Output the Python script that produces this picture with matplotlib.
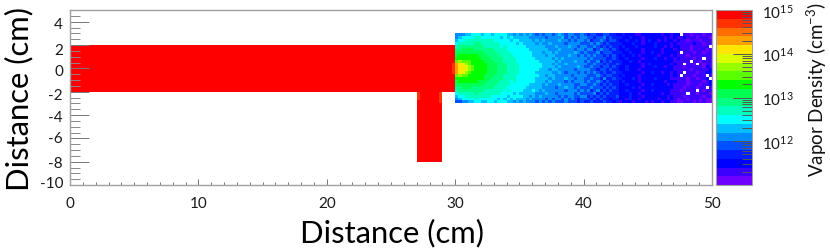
import numpy as np
import matplotlib
matplotlib.use("Agg")
import matplotlib.pyplot as plt
from matplotlib.colors import ListedColormap, LogNorm
from matplotlib.ticker import LogLocator, NullFormatter, MultipleLocator
from matplotlib.transforms import ScaledTranslation

plt.rcParams["font.family"] = ["Lato", "DejaVu Sans"]
plt.rcParams["mathtext.default"] = "regular"

W, H = 830, 251

# palette bands, lowest density first
band_colors = ["#6e00ff", "#3c00ff", "#0000ff", "#001eff", "#0050ff", "#008cff", "#00beff",
               "#00ffff", "#00ffbe", "#00ff82", "#00ff50", "#00ff00", "#5aff00", "#96ff00",
               "#dcff00", "#ffe600", "#ffa000", "#ff6e00", "#ff3200", "#ff0000"]

# band read off each cell, top row first: 0-9 then a-j, "." = empty bin
# chamber x 30..50, y -3..3, 0.25 cm bins
chamber_rows = [
    "55566777677677776656 56565454554565455445 4344334433 2232221122 2222122122.110111011",
    "56777788777777676766 66655555455556454545 5443445343 3322322212 22222121211211101110",
    "67788888888877777677 66665656555565545455 4534454344 3223223212 32212122121101110111",
    "78888899888888777776 76666565565555455554 4454543433 3322232212 22322221211111211011",
    "89999999988888787777 77666666555655565545 5445434343 3232223222 2232212122111011111.",
    "99aaaa99999988887777 77766666655565555455 4553454434 3223222212 22221222121110111101",
    "aaaaaaaaa99998888777 77776665665655555654 5444534443 3322322212 2322122221.111011011",
    "abbbbbbaaa9999888877 77776666566555565545 4545443434 3232232122 22212221211101111111",
    "bbbbbbbbaaa999988887 77777666665656555555 5454444334 3223222212 22322122121111011.11",
    "cdcccbbbbaaa99988887 77777766666565555655 4544534343 3322322122 2222222211111.110111",
    "gfedcbbbbbaaa9998888 77777776665655655555 5445443433 4322222212 32222221211.110.1011",
    "gffedcbbbbaaa9998888 77777776666565555565 4454434434 3223222212 22322122111011111021",
    "gffedcbbbbaaa9998888 77777766656655555455 5544344343 3223222122 22222222111110111112",
    "gfedcbbbbbaaa9998888 77777666665565455545 4545434334 3322222212 23221221211.11101122",
    "cdccbbbbbaaa99988887 77777766566555554555 5444543443 3232222122 2222222121.1110111.1",
    "bbbbbbbbbaa999988887 77777666656555655455 4454435334 3322232122 2232222111110110112.",
    "abbbbbbaaa9999888787 77777666565555454555 4544543433 3232222122 22222122211101111012",
    "aaaaaaaaa99998888777 77766665655565555445 5445434343 3223222212 23222212111101110112",
    "99aaa999999988887777 77666665555455655454 4454443434 3222232122 222222221110111011.1",
    "89999999988888878777 76667656555555455545 4534534343 3223222212 232222211101111.1011",
    "78888898888888777767 66666555655455555454 4445343433 3222322122 222212211111.1101110",
    "67788888888777776777 76656565555545455445 5343434333 4222322212 22222212111011111011",
    "56777787777776767676 66565555454554545434 4434343323 3221322122 22212212101101110100",
    "44556677667767776656 56555454545444544434 3343334332 3122212221 21221221100111010100",
]

# last column of the long channel (x 29.75..30, y -2..2)
channel_end = "jjjjjjiiiijjjjjj"

# side arm x 27..29, y -8..-2
arm_rows = ["ijjjjjji", "ijjjjjji", "ijjjjjji", "jjjjjjji"] + ["jjjjjjjj"] * 20

y_ticks = [-10, -8, -6, -4, -2, 0, 2, 4]
# reference labels do not sit exactly on their ticks (pixels, positive = down)
y_label_shift = [-3.3, 0.7, -0.7, 1.7, 2.3, 2.0, 4.3, 1.4]


def band_to_density(ch):
    if ch == ".":
        return np.nan
    return 10 ** (11 + 0.2 * (int(ch, 20) + 0.5))


def grid(rows):
    return np.array([[band_to_density(c) for c in r.replace(" ", "")] for r in rows])


fig = plt.figure(figsize=(W / 100, H / 100), dpi=100)
ax = fig.add_axes([70 / W, 1 - 186 / H, 642 / W, 175 / H])
cax = fig.add_axes([716 / W, 1 - 186 / H, 36 / W, 175 / H])

cmap = ListedColormap(band_colors)
norm = LogNorm(1e11, 1e15)
kw = dict(cmap=cmap, norm=norm, antialiased=False, linewidth=0, rasterized=True)

ax.pcolormesh([0, 29.75], [-2, 2], grid(["j"]), **kw)
ax.pcolormesh([29.75, 30], np.arange(2, -2.01, -0.25), grid(channel_end), **kw)
ax.pcolormesh(np.arange(27, 29.01, 0.25), np.arange(-2, -8.01, -0.25), grid(arm_rows), **kw)
mesh = ax.pcolormesh(np.arange(30, 50.01, 0.25), np.arange(3, -3.01, -0.25), grid(chamber_rows), **kw)

ax.set_xlim(0, 50)
ax.set_ylim(-10, 5)
ax.xaxis.set_minor_locator(MultipleLocator(1))
ax.yaxis.set_minor_locator(MultipleLocator(0.5))
ax.tick_params(axis="x", which="major", direction="in", length=4.5, width=0.7, color="#777777",
               labelsize=11, pad=8, labelcolor="#1a1a1a")
ax.tick_params(axis="x", which="minor", direction="in", length=2.2, width=0.7, color="#777777")
ax.tick_params(axis="y", which="major", direction="in", length=14, width=0.7, color="#777777",
               labelsize=11, pad=5, labelcolor="#1a1a1a")
ax.tick_params(axis="y", which="minor", direction="in", length=7, width=0.7, color="#888888")
for name, sp in ax.spines.items():
    sp.set_color("#a0a0a0")
    sp.set_linewidth(1.0)
ax.set_xticks(range(0, 51, 10))
ax.set_yticks(y_ticks)
ax.set_yticklabels([str(v) for v in y_ticks])
for lab, dy in zip(ax.get_yticklabels(), y_label_shift):
    lab.set_transform(lab.get_transform() + ScaledTranslation(0, -(dy - 0.7) / 100, fig.dpi_scale_trans))

fig.text(392 / W, 1 - 233 / H, "Distance (cm)", fontsize=22.3, ha="center", va="center", color="black")
fig.text(19 / W, 1 - 99 / H, "Distance (cm)", fontsize=22.3, rotation=90, ha="center", va="center", color="black")

cbar = fig.colorbar(mesh, cax=cax)
cbar.outline.set_edgecolor("#a0a0a0")
cbar.outline.set_linewidth(0.8)
cbar.set_ticks([1e12, 1e13, 1e14, 1e15])
cbar.set_ticklabels(["$10^{12}$", "$10^{13}$", "$10^{14}$", "$10^{15}$"])
cax.yaxis.set_minor_locator(LogLocator(base=10, subs=range(2, 10), numticks=12))
cax.yaxis.set_minor_formatter(NullFormatter())
cax.tick_params(axis="y", which="major", direction="in", length=14, width=0.7, color="#555555",
                labelsize=11, pad=7, labelcolor="#1a1a1a")
cax.tick_params(axis="y", which="minor", direction="in", length=7, width=0.7, color="#555555")

fig.text(817 / W, 1 - 90 / H, "Vapor Density (cm$^{-3}$)", fontsize=13.5, rotation=90,
         ha="center", va="center", color="#111111")

fig.savefig("out.png", dpi=100)
